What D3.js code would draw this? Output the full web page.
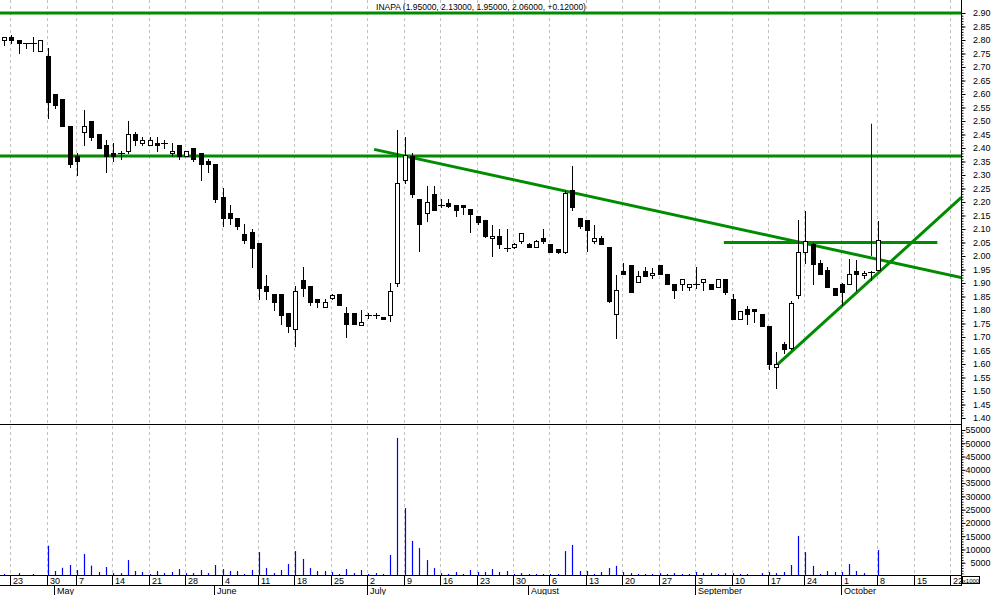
<!DOCTYPE html>
<html>
<head>
<meta charset="utf-8">
<script src="https://cdnjs.cloudflare.com/ajax/libs/d3/7.8.5/d3.min.js"></script>
<style>
  body { margin: 0; background: #fff; }
  svg text { font-family: "Liberation Sans", Arial, sans-serif; fill: #000; }
</style>
</head>
<body>
<div id="chart"></div>
<script>

// INAPA daily candles, 20 Apr 2007 -> 8 Oct 2007 (Lisbon trading days)
var firstDay = "2007-04-20";
var lastAxisDay = "2007-10-26";
var holidays = ["2007-05-01"];

var opens  = [2.80,2.81,2.80,2.79,2.79,2.76,2.74,2.60,2.58,2.48,
              2.37,2.46,2.50,2.45,2.41,2.38,2.38,2.39,2.45,2.42,
              2.41,2.42,2.42,2.38,2.41,2.37,2.40,2.38,2.35,2.34,
              2.22,2.16,2.14,2.08,2.09,2.05,1.89,1.86,1.86,1.79,
              1.73,1.91,1.89,1.84,1.81,1.845,1.86,1.79,1.79,1.745,
              1.78,1.78,1.775,1.78,1.90,2.28,2.37,2.21,2.16,2.23,
              2.19,2.195,2.19,2.19,2.175,2.15,2.135,2.065,2.075,2.03,
              2.035,2.055,2.045,2.035,2.065,2.045,2.025,2.015,2.245,2.14,
              2.135,2.055,2.065,2.035,1.785,1.945,1.965,1.905,1.945,1.928,
              1.965,1.935,1.895,1.895,1.886,1.895,1.905,1.895,1.885,1.915,
              1.84,1.765,1.805,1.805,1.785,1.74,1.59,1.675,1.66,1.855,
              2.015,2.045,1.975,1.95,1.88,1.895,1.895,1.945,1.928,1.94,
              1.95];
var highs  = [2.81,2.82,2.80,2.79,2.81,2.80,2.77,2.60,2.58,2.48,
              2.38,2.54,2.50,2.45,2.43,2.42,2.39,2.50,2.46,2.44,
              2.44,2.44,2.43,2.42,2.41,2.39,2.40,2.38,2.36,2.34,
              2.25,2.19,2.14,2.12,2.10,2.05,1.93,1.86,1.86,1.79,
              1.89,1.96,1.89,1.84,1.84,1.86,1.86,1.81,1.79,1.80,
              1.79,1.79,1.775,1.90,2.465,2.44,2.38,2.21,2.26,2.26,
              2.21,2.21,2.19,2.19,2.175,2.15,2.135,2.115,2.10,2.10,
              2.05,2.085,2.05,2.06,2.10,2.045,2.025,2.24,2.335,2.14,
              2.135,2.115,2.075,2.035,1.93,1.975,1.965,1.945,1.96,1.955,
              1.965,1.935,1.895,1.915,1.896,1.96,1.915,1.895,1.915,1.915,
              1.86,1.795,1.815,1.805,1.785,1.74,1.645,1.68,1.835,2.135,
              2.165,2.05,1.985,1.96,1.88,1.90,1.99,1.985,1.946,1.945,
              2.13];
var lows   = [2.78,2.79,2.75,2.77,2.76,2.76,2.51,2.55,2.48,2.33,
              2.30,2.41,2.43,2.40,2.31,2.35,2.36,2.38,2.41,2.41,
              2.41,2.39,2.40,2.37,2.36,2.37,2.35,2.28,2.31,2.20,
              2.11,2.12,2.10,2.05,1.96,1.84,1.84,1.80,1.75,1.72,
              1.665,1.85,1.82,1.81,1.81,1.84,1.82,1.70,1.75,1.745,
              1.77,1.77,1.765,1.76,1.89,2.27,2.22,2.02,2.13,2.17,
              2.18,2.18,2.15,2.155,2.09,2.12,2.07,2.00,2.03,2.02,
              2.03,2.05,2.035,2.035,2.05,2.015,2.01,2.01,2.17,2.105,
              2.02,2.05,2.045,1.83,1.695,1.935,1.865,1.905,1.925,1.92,
              1.935,1.895,1.845,1.875,1.875,1.88,1.875,1.877,1.885,1.86,
              1.765,1.765,1.748,1.755,1.74,1.58,1.51,1.64,1.655,1.845,
              1.975,1.895,1.935,1.885,1.855,1.82,1.895,1.875,1.92,1.91,
              1.95];
var closes = [2.81,2.80,2.79,2.79,2.79,2.80,2.57,2.56,2.48,2.34,
              2.35,2.48,2.44,2.40,2.37,2.37,2.38,2.45,2.43,2.43,
              2.43,2.41,2.42,2.39,2.37,2.39,2.36,2.34,2.34,2.21,
              2.14,2.14,2.11,2.06,2.03,1.88,1.87,1.83,1.78,1.74,
              1.87,1.88,1.83,1.83,1.83,1.855,1.82,1.75,1.75,1.755,
              1.78,1.78,1.765,1.87,2.27,2.375,2.23,2.12,2.20,2.17,
              2.19,2.185,2.17,2.18,2.155,2.125,2.075,2.075,2.045,2.03,
              2.045,2.085,2.035,2.055,2.055,2.015,2.015,2.235,2.18,2.11,
              2.095,2.065,2.045,1.835,1.875,1.935,1.865,1.925,1.925,1.937,
              1.935,1.895,1.875,1.915,1.896,1.895,1.915,1.877,1.915,1.865,
              1.765,1.795,1.785,1.795,1.74,1.60,1.60,1.655,1.825,2.015,
              2.055,1.97,1.935,1.885,1.855,1.865,1.935,1.935,1.937,1.94,
              2.06];
var volumes = [750,200,1100,200,750,200,11400,1900,3100,4150,
               2250,8300,3900,1500,3400,1100,1100,6000,1900,1500,
               700,1900,1100,1500,2600,1100,1100,2250,1100,4150,
               2600,1900,1900,750,2250,9000,3000,1100,2250,4500,
               9400,6400,3000,1900,1900,1500,750,2600,1100,2250,
               750,1100,750,7900,52000,25600,13200,10500,6000,3000,
               1100,750,1500,750,2250,1500,1500,2600,1500,1900,
               750,1100,750,750,750,750,750,9400,11700,1900,
               1900,750,1500,3000,3800,1500,1100,750,750,750,
               1100,750,1100,750,750,1500,1100,1100,750,1100,
               1100,750,750,300,1100,1500,1100,1500,4150,15100,
               9000,3800,750,1900,1500,1500,4500,1900,1100,300,
               9800];

var priceTicks = [1.40,1.45,1.50,1.55,1.60,1.65,1.70,1.75,1.80,1.85,1.90,1.95,2.00,
                  2.05,2.10,2.15,2.20,2.25,2.30,2.35,2.40,2.45,2.50,2.55,2.60,2.65,
                  2.70,2.75,2.80,2.85,2.90];
var volumeTicks = [5000,10000,15000,20000,25000,30000,35000,40000,45000,50000,55000];
var monthNames = ["January","February","March","April","May","June","July",
                  "August","September","October","November","December"];

// drawn lines: [trading-day index, price]
var greenLines = [
  [[-0.6, 2.90], [131.4, 2.90]],
  [[-0.6, 2.37], [131.4, 2.37]],
  [[50.8, 2.395], [131.4, 1.92]],
  [[98.8, 2.05], [128.1, 2.05]],
  [[105.95, 1.593], [131.4, 2.217]]
];
var blueMark = {day: 119, from: 2.00, to: 2.49};

var title = "INAPA (1.95000, 2.13000, 1.95000, 2.06000, +0.12000)";

var width = 994, height = 595;
var right = 961, priceBottom = 424, volBottom = 575;

var parse = d3.timeParse("%Y-%m-%d"), fmt = d3.timeFormat("%Y-%m-%d");
var days = d3.timeDay.range(parse(firstDay), d3.timeDay.offset(parse(lastAxisDay), 1))
  .filter(function(d) { var w = d.getDay(); return w > 0 && w < 6 && holidays.indexOf(fmt(d)) < 0; });

var bars = opens.map(function(o, i) {
  return {i: i, date: days[i], o: o, h: highs[i], l: lows[i], c: closes[i], v: volumes[i]};
});

var x = d3.scaleLinear().domain([0, 120]).range([4, 878.3]);
var y = d3.scaleLinear().domain([1.40, 2.90]).range([418, 13]);
var yv = d3.scaleLinear().domain([0, 55000]).range([576, 430]);

function px(i) { return Math.round(x(i)); }

var svg = d3.select("#chart").append("svg")
    .attr("width", width)
    .attr("height", height);

svg.append("defs").append("clipPath").attr("id", "plotclip")
  .append("rect").attr("x", 0).attr("y", 0).attr("width", right).attr("height", priceBottom);

// weekly grid (Mondays)
var mondays = days.map(function(d, i) { return {d: d, i: i}; })
  .filter(function(o) { return o.d.getDay() === 1; });
var firstOfMonth = days.map(function(d, i) { return {d: d, i: i}; })
  .filter(function(o, k, arr) { return k > 0 && o.d.getMonth() !== days[o.i - 1].getMonth(); });

function tickX(i) { return Math.floor(x(i) - 0.5) + 0.5; }

svg.append("g").selectAll("line")
  .data(mondays)
  .enter().append("line")
    .attr("x1", function(o) { return tickX(o.i); })
    .attr("x2", function(o) { return tickX(o.i); })
    .attr("y1", 0)
    .attr("y2", volBottom)
    .attr("stroke", "#c0c0c0")
    .attr("stroke-dasharray", "3,3");

// title
svg.append("text")
  .attr("x", 481)
  .attr("y", 10)
  .attr("text-anchor", "middle")
  .style("font-size", "8.5px")
  .text(title);

// green lines
var lineGen = d3.line()
  .x(function(p) { return x(p[0]); })
  .y(function(p) { return y(p[1]); });

svg.append("g").attr("clip-path", "url(#plotclip)")
  .selectAll("path")
  .data(greenLines)
  .enter().append("path")
    .attr("d", lineGen)
    .attr("fill", "none")
    .attr("stroke", "#008c00")
    .attr("stroke-width", 3);

// candles
var candle = svg.append("g").selectAll("g")
  .data(bars)
  .enter().append("g");

candle.append("line")
  .attr("x1", function(d) { return px(d.i) + 0.5; })
  .attr("x2", function(d) { return px(d.i) + 0.5; })
  .attr("y1", function(d) { return Math.round(y(d.h)); })
  .attr("y2", function(d) { return Math.round(y(d.l)) + 1; })
  .attr("stroke", "#000");

candle.filter(function(d) { return Math.abs(d.o - d.c) < 0.003; })
  .append("line")
    .attr("x1", function(d) { return px(d.i) - 3; })
    .attr("x2", function(d) { return px(d.i) + 4; })
    .attr("y1", function(d) { return Math.round(y(d.c)) + 0.5; })
    .attr("y2", function(d) { return Math.round(y(d.c)) + 0.5; })
    .attr("stroke", "#000");

candle.filter(function(d) { return Math.abs(d.o - d.c) >= 0.003; })
  .append("rect")
    .attr("x", function(d) { return px(d.i) - 1.5; })
    .attr("width", 4)
    .attr("y", function(d) { return Math.round(y(Math.max(d.o, d.c))) + 0.5; })
    .attr("height", function(d) {
      return Math.max(1, Math.round(y(Math.min(d.o, d.c))) - Math.round(y(Math.max(d.o, d.c))));
    })
    .attr("fill", function(d) { return d.c > d.o ? "#fff" : "#000"; })
    .attr("stroke", "#000");

// blue mark in price panel
svg.append("line")
  .attr("x1", px(blueMark.day) + 0.5)
  .attr("x2", px(blueMark.day) + 0.5)
  .attr("y1", y(blueMark.to))
  .attr("y2", y(blueMark.from))
  .attr("stroke", "#0000ff");

// volume bars
svg.append("g").selectAll("line")
  .data(bars)
  .enter().append("line")
    .attr("x1", function(d) { return px(d.i) + 0.5; })
    .attr("x2", function(d) { return px(d.i) + 0.5; })
    .attr("y1", volBottom)
    .attr("y2", function(d) { return yv(d.v); })
    .attr("stroke", "#0000ff")
    .attr("stroke-width", 1.2);

// frame lines
var frame = svg.append("g").attr("stroke", "#000");
frame.append("line").attr("x1", 0).attr("x2", right).attr("y1", priceBottom + 0.5).attr("y2", priceBottom + 0.5);
frame.append("line").attr("x1", 0).attr("x2", right).attr("y1", volBottom + 0.5).attr("y2", volBottom + 0.5);
frame.append("line").attr("x1", 0).attr("x2", right).attr("y1", 585.5).attr("y2", 585.5);
frame.append("line").attr("x1", right + 0.5).attr("x2", right + 0.5).attr("y1", 0).attr("y2", 586);

// price axis
var pAxis = svg.append("g").attr("transform", "translate(" + (right + 0.5) + ",0)");
pAxis.call(d3.axisRight(y).tickValues(d3.range(140, 291).map(function(v) { return v / 100; }))
    .tickSize(2).tickFormat(""))
  .call(function(g) { g.select(".domain").remove(); });
var pMajor = svg.append("g").attr("transform", "translate(" + (right + 0.5) + ",0)")
  .call(d3.axisRight(y).tickValues(priceTicks).tickSize(4).tickFormat(d3.format(".2f")));
pMajor.select(".domain").remove();

// volume axis
var vAxis = svg.append("g").attr("transform", "translate(" + (right + 0.5) + ",0)");
vAxis.call(d3.axisRight(yv).tickValues(d3.range(1000, 56000, 1000)).tickSize(2).tickFormat(""))
  .call(function(g) { g.select(".domain").remove(); });
var vMajor = svg.append("g").attr("transform", "translate(" + (right + 0.5) + ",0)")
  .call(d3.axisRight(yv).tickValues(volumeTicks).tickSize(4).tickFormat(d3.format("d")));
vMajor.select(".domain").remove();

svg.selectAll(".tick text")
  .attr("x", 29)
  .attr("text-anchor", "end")
  .style("font-size", "9px")
  .style("font-family", "'Liberation Sans', Arial, sans-serif");

svg.append("rect")
  .attr("x", right + 1.5).attr("y", 576.5).attr("width", 17).attr("height", 7)
  .attr("fill", "none").attr("stroke", "#000");
svg.append("text")
  .attr("x", right + 10).attr("y", 582.5)
  .attr("text-anchor", "middle")
  .style("font-size", "6px")
  .text("x1000");

// date axis: weeks
var wk = svg.append("g").selectAll("g")
  .data(mondays)
  .enter().append("g")
    .attr("transform", function(o) { return "translate(" + tickX(o.i) + ",0)"; });
wk.append("line")
  .attr("y1", volBottom)
  .attr("y2", 586)
  .attr("stroke", "#000");
wk.append("text")
  .attr("x", 2.5)
  .attr("y", 584)
  .style("font-size", "9px")
  .text(function(o) { return o.d.getDate(); });

// date axis: months
var mo = svg.append("g").selectAll("g")
  .data(firstOfMonth)
  .enter().append("g")
    .attr("transform", function(o) { return "translate(" + tickX(o.i) + ",0)"; });
mo.append("line")
  .attr("y1", 585)
  .attr("y2", 595)
  .attr("stroke", "#000");
mo.append("text")
  .attr("x", 2.5)
  .attr("y", 594)
  .style("font-size", "9px")
  .text(function(o) { return monthNames[o.d.getMonth()]; });

</script>
</body>
</html>
